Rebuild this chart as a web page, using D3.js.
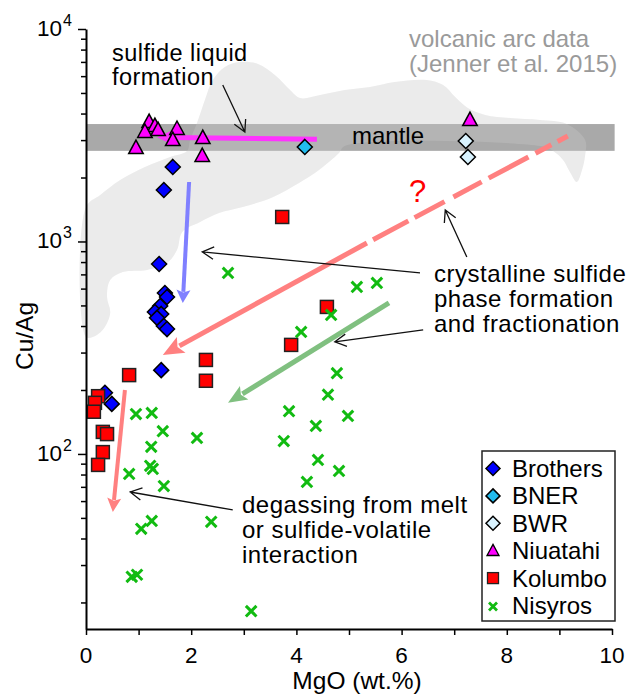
<!DOCTYPE html>
<html><head><meta charset="utf-8">
<script src="https://cdn.jsdelivr.net/npm/d3@7"></script>
<style>body{margin:0;background:#fff}svg{display:block}text{font-family:"Liberation Sans",Arial,sans-serif}</style>
</head><body>
<svg id="c" width="633" height="695"></svg>
<script>
// ---------- data ----------
const brothersMgO = [1.65,1.48,1.39,1.50,1.54,1.41,1.31,1.43,1.35,1.48,1.54,1.43,0.36,0.49];
const brothersCuAg = [2243,1746,783,572,548,497,466,456,437,400,387,248,194,172];
const bnerMgO = [4.16];
const bnerCuAg = [2786];
const bwrMgO = [7.22,7.26];
const bwrCuAg = [2972,2500];
const niuatahiMgO = [1.20,1.31,1.12,1.37,1.73,1.65,2.22,0.95,2.21,7.30];
const niuatahiCuAg = [3610,3459,3243,3311,3350,2972,3035,2725,2500,3690];
const kolumboMgO = [3.73,4.58,3.90,0.82,2.28,2.28,0.23,0.17,0.15,0.32,0.40,0.32,0.23];
const kolumboCuAg = [1304,492,326,235,277,221,187,174,158,127,124,102,88.8];
const nisyrosMgO = [2.70,5.15,5.53,4.66,4.09,4.77,4.60,4.98,3.86,4.37,3.76,4.41,4.81,4.20,3.14,0.95,1.25,1.46,2.11,1.24,1.22,1.27,0.82,1.48,1.25,1.05,2.38,0.97,0.87];
const nisyrosCuAg = [711,611,638,451,375,240,190,151,159,135.5,115,93.7,83.2,73.8,18.2,154,156,128,119,108,87.9,85,80.5,70.6,48.4,44.4,47.9,27.0,26.4];

const mantleMgO = [0, 10.05];
const mantleCuAg = [2670, 3570];

// volcanic arc field outline (Jenner et al. 2015)
const arcMgO = [0,0,0.27,0.65,1.12,1.60,1.92,1.98,2.11,2.26,2.41,2.64,2.93,3.27,3.59,3.88,4.07,4.45,4.92,5.40,5.87,6.48,6.79,7.02,7.26,7.59,8.06,8.63,9.14,9.49,9.49,9.43,9.33,9.20,9.07,8.88,8.63,4.92,4.81,4.43,4.05,3.56,2.98,2.53,2.17,1.83,1.73,1.54,1.16,0.70,0.46,0.40,0.46,0.32,0.13];
const arcCuAg = [355,1452,1655,1947,2243,2500,2666,3004,3610,4634,5754,6626,6993,6843,6077,5164,4733,4889,5164,5333,5632,5754,5449,4786,4246,3939,3811,3730,3572,3004,2553,2169,1905,2123,2419,2666,2812,2812,2609,2169,1884,1620,1452,1362,1236,1109,912,792,735,718,659,548,461,384,355];

const xTicks = [0,1,2,3,4,5,6,7,8,9,10];
const xLabels = [0,2,4,6,8,10];
const yMajor = [100,1000,10000];
const yMajorExp = ["2","3","4"];

const seriesNames = ["Brothers","BNER","BWR","Niuatahi","Kolumbo","Nisyros"];

// ---------- scales ----------
const svg = d3.select("#c");
const x = d3.scaleLinear().domain([0,10]).range([86,612]);
const y = d3.scaleLog().domain([15,10000]).range([629,29]);

const arcLine = d3.line().x(d=>x(d[0])).y(d=>y(d[1])).curve(d3.curveCatmullRomClosed.alpha(0.5));
const arcPts = arcMgO.map((m,i)=>[m,arcCuAg[i]]);

// arc field
svg.append("path").datum(arcPts).attr("d", arcLine).attr("fill","#e9e9e9");

// mantle band
svg.append("rect")
  .attr("x",x(mantleMgO[0])).attr("width",x(mantleMgO[1])-x(mantleMgO[0]))
  .attr("y",y(mantleCuAg[1])).attr("height",y(mantleCuAg[0])-y(mantleCuAg[1]))
  .attr("fill","#a9a9a9");
// translucent arc field over band
svg.append("path").datum(arcPts).attr("d", arcLine).attr("fill","#fff").attr("fill-opacity",0.13);

// ---------- arrows ----------
function filledArrow(x0,y0,x1,y1,color,w,L,W,dash){
  const px0=x(x0),py0=y(y0),px1=x(x1),py1=y(y1);
  const dx=px1-px0,dy=py1-py0,len=Math.hypot(dx,dy),ux=dx/len,uy=dy/len;
  const bx=px1-ux*L,by=py1-uy*L;
  const ln=svg.append("line").attr("x1",px0).attr("y1",py0).attr("x2",bx+ux*2).attr("y2",by+uy*2)
    .attr("stroke",color).attr("stroke-width",w);
  if(dash) ln.attr("stroke-dasharray",dash);
  svg.append("path").attr("d",`M${px1},${py1}L${bx-uy*W},${by+ux*W}L${bx+ux*L*0.2},${by+uy*L*0.2}L${bx+uy*W},${by-ux*W}Z`).attr("fill",color);
}
function openArrow(x0,y0,x1,y1){
  const px0=x(x0),py0=y(y0),px1=x(x1),py1=y(y1);
  const a=Math.atan2(py0-py1,px0-px1),L=13,s=0.5;
  svg.append("path").attr("d",`M${px0},${py0}L${px1},${py1}M${px1+L*Math.cos(a+s)},${py1+L*Math.sin(a+s)}L${px1},${py1}L${px1+L*Math.cos(a-s)},${py1+L*Math.sin(a-s)}`)
    .attr("fill","none").attr("stroke","#111").attr("stroke-width",1.3);
}

// magenta: sulfide liquid formation
filledArrow(4.39,3030,1.35,3090,"#ff33ff",5,17,8);
// blue: Brothers
filledArrow(1.96,1905,1.84,514,"#8080ff",4,13,7);
// red dashed extension
(function(){
  const t0=[5.34,984], t1=[9.16,3135];
  svg.append("line").attr("x1",x(t0[0])).attr("y1",y(t0[1])).attr("x2",x(t1[0])).attr("y2",y(t1[1]))
    .attr("stroke","#ff8080").attr("stroke-width",5).attr("stroke-dasharray","0,7,40,7,34,10,32,8,45,8,18,7,12");
})();
filledArrow(5.34,984,1.46,292,"#ff8080",5,21,9);
// green: Nisyros
filledArrow(5.76,514,2.70,174,"#80c080",5,19,8);
// small pink: degassing
filledArrow(0.74,200,0.51,53.3,"#ff8080",4,14,7);

// thin annotation arrows
openArrow(2.60,5449,3.02,3275);
openArrow(7.24,845,6.83,1406);
openArrow(6.35,711,2.21,893);
openArrow(6.41,384,4.73,337);
openArrow(2.79,54.5,0.84,66.2);

// ---------- markers ----------
function diamond(g,cx,cy,r){return g.append("path").attr("d",`M${cx},${cy-r}L${cx+r},${cy}L${cx},${cy+r}L${cx-r},${cy}Z`);}
function tri(g,cx,cy,w){const h=w*0.93;return g.append("path").attr("d",`M${cx},${cy-h*0.66}L${cx+w/2},${cy+h*0.34}L${cx-w/2},${cy+h*0.34}Z`);}
function sq(g,cx,cy,s){return g.append("rect").attr("x",cx-s/2).attr("y",cy-s/2).attr("width",s).attr("height",s);}
function cross(g,cx,cy,r,sw){return g.append("path").attr("d",`M${cx-r},${cy-r}L${cx+r},${cy+r}M${cx-r},${cy+r}L${cx+r},${cy-r}`).attr("stroke","#11bb11").attr("stroke-width",sw).attr("fill","none");}

const mk = svg.append("g");
brothersMgO.forEach((m,i)=>diamond(mk,x(m),y(brothersCuAg[i]),7.5).attr("fill","#0000ff").attr("stroke","#000").attr("stroke-width",1.5));
bnerMgO.forEach((m,i)=>diamond(mk,x(m),y(bnerCuAg[i]),7.5).attr("fill","#22bbee").attr("stroke","#000").attr("stroke-width",1.5));
bwrMgO.forEach((m,i)=>diamond(mk,x(m),y(bwrCuAg[i]),7.5).attr("fill","#d9f3ff").attr("stroke","#000").attr("stroke-width",1.5));
niuatahiMgO.forEach((m,i)=>tri(mk,x(m),y(niuatahiCuAg[i]),14.5).attr("fill","#ff00ff").attr("stroke","#000").attr("stroke-width",1.5));
kolumboMgO.forEach((m,i)=>sq(mk,x(m),y(kolumboCuAg[i]),13).attr("fill","#ff0000").attr("stroke","#222").attr("stroke-width",1.5));
nisyrosMgO.forEach((m,i)=>cross(mk,x(m),y(nisyrosCuAg[i]),5.3,3));

// ---------- axes ----------
const yMinor=[];
[10,100,1000].forEach(d=>{for(let k=2;k<=9;k++){const v=d*k; if(v>=15&&v<10000) yMinor.push(v);}});
svg.append("g").attr("transform","translate(86,0)")
  .call(d3.axisLeft(y).tickValues(yMinor).tickSize(5).tickSizeOuter(0).tickFormat(""))
  .call(g=>{g.select(".domain").attr("stroke-width",2);g.selectAll(".tick line").attr("stroke-width",1.5);});
svg.append("g").attr("transform","translate(86,0)")
  .call(d3.axisLeft(y).tickValues(yMajor).tickSize(8).tickSizeOuter(0).tickFormat(""))
  .call(g=>{g.select(".domain").remove();g.selectAll(".tick line").attr("stroke-width",1.5);});
yMajor.forEach((v,i)=>{
  svg.append("text").attr("x",62).attr("y",y(v)+7).attr("text-anchor","end").attr("font-size",22.5).text("10");
  svg.append("text").attr("x",63).attr("y",y(v)-3).attr("font-size",16).text(yMajorExp[i]);
});
svg.append("g").attr("transform","translate(0,629)")
  .call(d3.axisBottom(x).tickValues(xTicks).tickSize(6).tickSizeOuter(0).tickFormat(""))
  .call(g=>{g.select(".domain").attr("stroke-width",2);g.selectAll(".tick line").attr("stroke-width",1.5);});
xLabels.forEach(v=>svg.append("text").attr("x",x(v)).attr("y",663).attr("text-anchor","middle").attr("font-size",22.5).text(v));

svg.append("text").attr("x",357).attr("y",689).attr("text-anchor","middle").attr("font-size",24.5).text("MgO (wt.%)");
svg.append("text").attr("transform","translate(33,336) rotate(-90)").attr("text-anchor","middle").attr("font-size",24.5).text("Cu/Ag");

// ---------- annotation text ----------
function lines(x0,y0,arr,opts){
  arr.forEach((s,i)=>{svg.append("text").attr("x",x0).attr("y",y0+i*(opts.lh||25)).attr("font-size",opts.fs||24)
    .attr("letter-spacing",opts.ls||0).attr("fill",opts.fill||"#000").text(s);});
}
lines(112,61,["sulfide liquid","formation"],{lh:24,fs:23.5,ls:0.45});
lines(409,47,["volcanic arc data","(Jenner et al. 2015)"],{lh:25,fill:"#9a9a9a"});
lines(352,144,["mantle"],{});
lines(409,202,["?"],{fs:31,fill:"#ff0000"});
lines(434,282,["crystalline sulfide","phase formation","and fractionation"],{lh:25,ls:0.5});
lines(242,513,["degassing from melt","or sulfide-volatile","interaction"],{lh:25,ls:0.5});

// ---------- legend ----------
const lg = svg.append("g");
lg.append("rect").attr("x",482).attr("y",451).attr("width",133).attr("height",170).attr("fill","#fff").attr("stroke","#222").attr("stroke-width",1.5);
seriesNames.forEach((n,i)=>{
  const by=477+i*27.4, cy=by-8.5, cx=493;
  if(i===0) diamond(lg,cx,cy,7).attr("fill","#0000ff").attr("stroke","#000").attr("stroke-width",1.5);
  if(i===1) diamond(lg,cx,cy,7).attr("fill","#22bbee").attr("stroke","#000").attr("stroke-width",1.5);
  if(i===2) diamond(lg,cx,cy,7).attr("fill","#d9f3ff").attr("stroke","#000").attr("stroke-width",1.5);
  if(i===3) tri(lg,cx,cy+1,12).attr("fill","#ff00ff").attr("stroke","#000").attr("stroke-width",1.3);
  if(i===4) sq(lg,cx,cy,11).attr("fill","#ff0000").attr("stroke","#222").attr("stroke-width",1.3);
  if(i===5) cross(lg,cx,cy+1,4,2.8);
  lg.append("text").attr("x",512).attr("y",by).attr("font-size",24).text(n);
});
</script>
</body></html>
